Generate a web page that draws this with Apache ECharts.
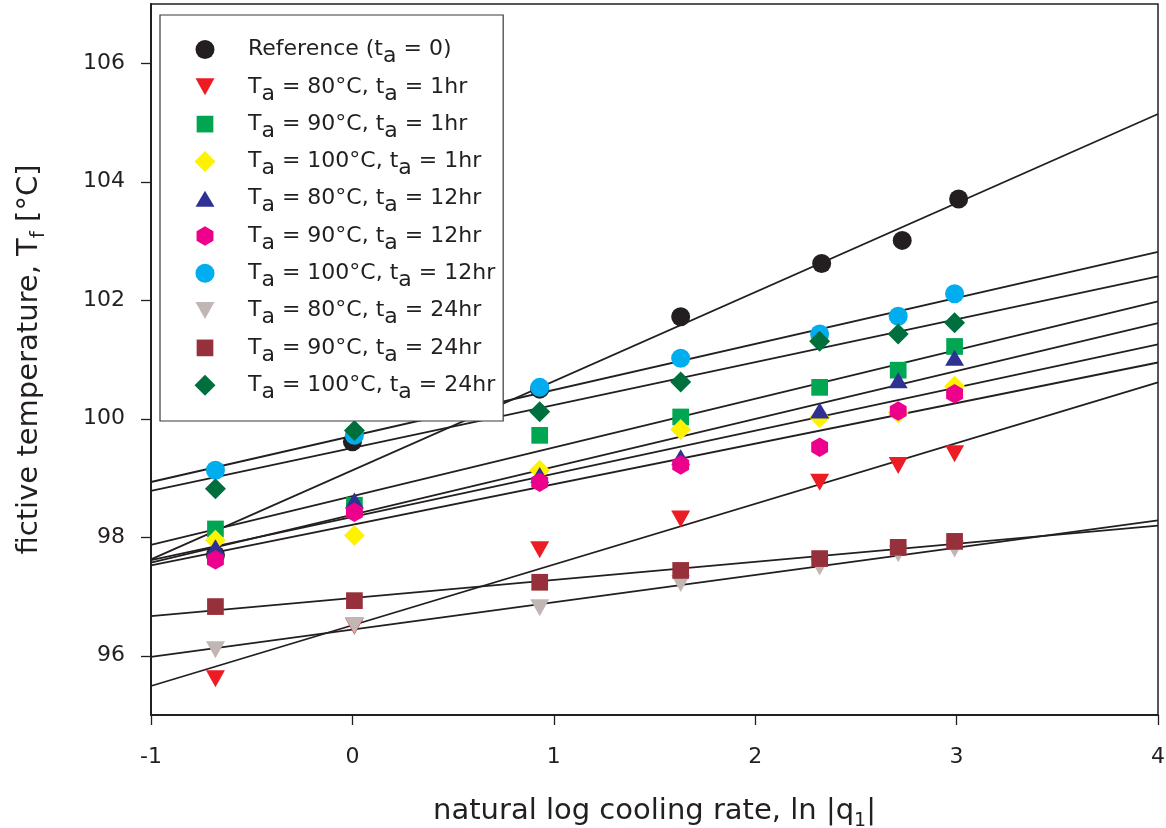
<!DOCTYPE html>
<html>
<head>
<meta charset="utf-8">
<script src="https://cdn.jsdelivr.net/npm/echarts@6/dist/echarts.min.js"></script>
<style>
  html, body { margin: 0; padding: 0; background: #ffffff; }
  #chart { width: 1166px; height: 828px; }
</style>
</head>
<body>
<div id="chart"></div>
<script>
// natural log of the cooling rate used for each run
const lnRate    = [-0.68, 0.01, 0.93, 1.63, 2.32, 2.71, 2.99];
const lnRateRef = [-0.68, 0.00, 0.93, 1.63, 2.33, 2.73, 3.01];

// fictive temperature, Tf [°C], per annealing condition
const tfReference = [97.70, 99.61, 100.50, 101.72, 102.62, 103.01, 103.71];
const tf80_1hr    = [95.61, 96.50, 97.79, 98.31, 98.93, 99.21, 99.41];
const tf90_1hr    = [98.14, 98.54, 99.72, 100.03, 100.53, 100.82, 101.22];
const tf100_1hr   = [97.95, 98.03, 99.13, 99.82, 100.02, 100.10, 100.55];
const tf80_12hr   = [97.83, 98.62, 99.05, 99.35, 100.14, 100.65, 101.03];
const tf90_12hr   = [97.62, 98.42, 98.93, 99.22, 99.52, 100.13, 100.42];
const tf100_12hr  = [99.13, 99.72, 100.53, 101.02, 101.43, 101.73, 102.11];
const tf80_24hr   = [96.10, 96.51, 96.81, 97.22, 97.50, 97.72, 97.80];
const tf90_24hr   = [96.83, 96.93, 97.24, 97.44, 97.64, 97.83, 97.93];
const tf100_24hr  = [98.82, 99.80, 100.12, 100.62, 101.31, 101.43, 101.62];

const seriesNames = [
  'Reference (ta = 0)',
  'Ta = 80°C, ta = 1hr',
  'Ta = 90°C, ta = 1hr',
  'Ta = 100°C, ta = 1hr',
  'Ta = 80°C, ta = 12hr',
  'Ta = 90°C, ta = 12hr',
  'Ta = 100°C, ta = 12hr',
  'Ta = 80°C, ta = 24hr',
  'Ta = 90°C, ta = 24hr',
  'Ta = 100°C, ta = 24hr'
];

// axis tick labels
const xTicks = [-1, 0, 1, 2, 3, 4];
const yTicks = [96, 98, 100, 102, 104, 106];

// ---------------------------------------------------------------
const INK = '#231f20';
const FONT = 'DejaVu Sans';

// marker outlines, each drawn inside a common 22x22 frame so that chart
// markers and legend icons keep the same relative sizes
const FRAME = 'M0,0 M22,22 ';
const SHAPE = {
  circle:  FRAME + 'M1.5,11 A9.5,9.5 0 1,1 20.5,11 A9.5,9.5 0 1,1 1.5,11 Z',
  triDown: FRAME + 'M1.5,2.5 L20.5,2.5 L11,19.5 Z',
  triUp:   FRAME + 'M11,3 L20.5,19 L1.5,19 Z',
  square:  FRAME + 'M2.65,2.65 L19.35,2.65 L19.35,19.35 L2.65,19.35 Z',
  diamond: FRAME + 'M11,0.5 L21.5,11 L11,21.5 L0.5,11 Z',
  hexagon: FRAME + 'M11,1.25 L19.44,6.13 L19.44,15.87 L11,20.75 L2.56,15.87 L2.56,6.13 Z'
};

const groups = [
  { x: lnRateRef, y: tfReference, shape: SHAPE.circle,  color: INK },
  { x: lnRate,    y: tf80_1hr,    shape: SHAPE.triDown, color: '#ed1c24' },
  { x: lnRate,    y: tf90_1hr,    shape: SHAPE.square,  color: '#00a651' },
  { x: lnRate,    y: tf100_1hr,   shape: SHAPE.diamond, color: '#fff200' },
  { x: lnRate,    y: tf80_12hr,   shape: SHAPE.triUp,   color: '#2e3192' },
  { x: lnRate,    y: tf90_12hr,   shape: SHAPE.hexagon, color: '#ec008c' },
  { x: lnRate,    y: tf100_12hr,  shape: SHAPE.circle,  color: '#00aeef' },
  { x: lnRate,    y: tf80_24hr,   shape: SHAPE.triDown, color: '#c0b7b4' },
  { x: lnRate,    y: tf90_24hr,   shape: SHAPE.square,  color: '#96303a' },
  { x: lnRate,    y: tf100_24hr,  shape: SHAPE.diamond, color: '#006f3e' }
];

const X_MIN = xTicks[0];
const X_MAX = xTicks[xTicks.length - 1];

// least-squares straight line through one group, spanning the whole x axis
function fitLine(xs, ys) {
  const n = xs.length;
  let sx = 0, sy = 0;
  for (let i = 0; i < n; i++) { sx += xs[i]; sy += ys[i]; }
  const mx = sx / n, my = sy / n;
  let sxx = 0, sxy = 0;
  for (let i = 0; i < n; i++) {
    sxx += (xs[i] - mx) * (xs[i] - mx);
    sxy += (xs[i] - mx) * (ys[i] - my);
  }
  const slope = sxy / sxx;
  const icpt = my - slope * mx;
  return [[X_MIN, icpt + slope * X_MIN], [X_MAX, icpt + slope * X_MAX]];
}

const fitSeries = groups.map(g => ({
  type: 'line',
  data: fitLine(g.x, g.y),
  symbol: 'none',
  silent: true,
  z: 2,
  lineStyle: { color: INK, width: 1.8 },
  emphasis: { disabled: true }
}));

const pointSeries = groups.map((g, i) => ({
  type: 'scatter',
  name: seriesNames[i],
  data: g.x.map((xv, k) => [xv, g.y[k]]),
  symbol: 'path://' + g.shape,
  symbolSize: 22,
  z: 3,
  itemStyle: { color: g.color, opacity: 1, borderWidth: 0 },
  emphasis: { disabled: true }
}));

const sub = (size, lh) => ({ fontFamily: FONT, fontSize: size, lineHeight: lh, verticalAlign: 'bottom', color: INK });

const option = {
  animation: false,
  backgroundColor: '#ffffff',
  textStyle: { fontFamily: FONT, color: INK },
  grid: {
    left: 151, right: 8, top: 4, bottom: 113,
    show: true, borderColor: INK, borderWidth: 1.5, backgroundColor: 'transparent',
    containLabel: false, outerBoundsMode: 'none'
  },
  legend: {
    orient: 'vertical',
    left: 160, top: 15,
    padding: [16.5, 8, 17.8, 34],
    itemWidth: 22, itemHeight: 22, itemGap: 1.3,
    backgroundColor: '#ffffff', borderColor: '#3a3a3a', borderWidth: 1.2, borderRadius: 0,
    symbolKeepAspect: true,
    selectedMode: false,
    data: seriesNames.map((n, i) => ({ name: n, icon: 'path://' + groups[i].shape })),
    formatter: n => n.replace(/([Tt])a\b/g, '$1{s|a}'),
    textStyle: {
      color: INK, fontFamily: FONT, fontSize: 22, lineHeight: 36,
      padding: [0, 0, 0, 27],
      rich: { s: sub(22, 22) }
    }
  },
  xAxis: {
    type: 'value', min: X_MIN, max: X_MAX, interval: 1,
    name: 'natural log cooling rate, ln |q{s|1}|',
    nameLocation: 'middle', nameGap: 76, nameMoveOverlap: false,
    nameTextStyle: { color: INK, fontFamily: FONT, fontSize: 29, lineHeight: 40, rich: { s: sub(19, 14) } },
    axisLine: { show: true, onZero: false, lineStyle: { color: INK, width: 2 } },
    axisTick: { show: true, inside: false, length: 10, customValues: xTicks, lineStyle: { color: INK, width: 1.3 } },
    axisLabel: { customValues: xTicks, margin: 31, color: INK, fontFamily: FONT, fontSize: 22 },
    splitLine: { show: false }
  },
  yAxis: {
    type: 'value', min: 95, max: 107,
    name: 'fictive temperature, T{s|f} [°C]',
    nameLocation: 'middle', nameRotate: 90, nameGap: 102, nameMoveOverlap: false,
    nameTextStyle: { color: INK, fontFamily: FONT, fontSize: 29, lineHeight: 40, rich: { s: sub(20, 14) } },
    axisLine: { show: true, onZero: false, lineStyle: { color: INK, width: 2 } },
    axisTick: { show: true, inside: false, length: 10, customValues: yTicks, lineStyle: { color: INK, width: 1.3 } },
    axisLabel: { customValues: yTicks, margin: 26, color: INK, fontFamily: FONT, fontSize: 22 },
    splitLine: { show: false }
  },
  series: fitSeries.concat(pointSeries)
};

const chart = echarts.init(document.getElementById('chart'), null, { renderer: 'canvas' });
chart.setOption(option);
</script>
</body>
</html>
